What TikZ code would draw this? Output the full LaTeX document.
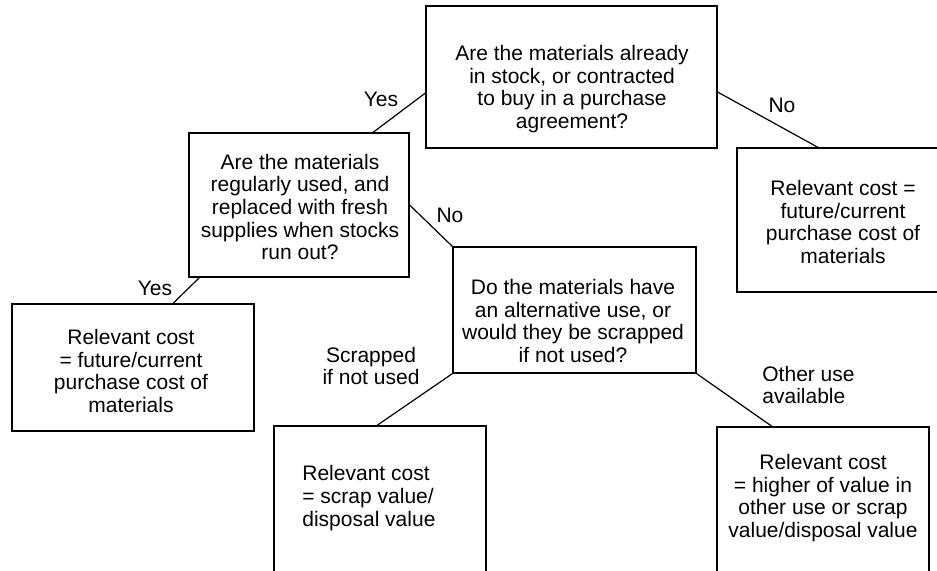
\documentclass[tikz,border=0pt]{standalone}
\usepackage{fontspec}
\setmainfont{Liberation Sans}
\usetikzlibrary{
  positioning,
  calc
}
\newcommand{\treefont}{\fontsize{10.5}{11.3}\selectfont}
\tikzset{
  qbox/.style={draw, line width=0.6pt, inner sep=0pt},
  qtext/.style={font=\treefont, align=center, inner sep=0pt},
  branch/.style={line width=0.6pt},
  blabel/.style={font=\treefont, inner sep=0pt}
}

\begin{document}
\begin{tikzpicture}[x=0.5pt, y=-0.5pt]
  \useasboundingbox (0,0) rectangle (937,570);
  \clip (0,0) rectangle (937,570);

  % questions
  \node[qbox, minimum width=145.5pt, minimum height=71pt] (q1) at (571.5,77) {};
  \node[qtext] (q1t) at (572,89) {Are the materials already\\in stock, or contracted\\to buy in a purchase\\agreement?};

  \node[qbox, minimum width=110pt, minimum height=72pt] (q2) at (299,205) {};
  \node[qtext] (q2t) at (300,207) {Are the materials\\regularly used, and\\replaced with fresh\\supplies when stocks\\run out?};

  \node[qbox, minimum width=121.5pt, minimum height=63pt] (q3) at (574.5,310) {};
  \node[qtext] (q3t) at (573,321) {Do the materials have\\an alternative use, or\\would they be scrapped\\if not used?};

  % outcomes
  \node[qbox, minimum width=106pt, minimum height=72pt] (r1) at (843,220) {};
  \node[qtext] (r1t) at (843,222) {Relevant cost =\\future/current\\purchase cost of\\materials};

  \node[qbox, minimum width=121pt, minimum height=63.5pt] (r2) at (133,367.5) {};
  \node[qtext] (r2t) at (131,371) {Relevant cost\\= future/current\\purchase cost of\\materials};

  \node[qbox, minimum width=106pt, minimum height=74pt] (r3) at (380,500) {};
  \node[qtext, align=left, anchor=west] (r3t) at (302,498) {Relevant cost\\= scrap value/\\disposal value};

  \node[qbox, minimum width=106pt, minimum height=73.5pt] (r4) at (823,500.5) {};
  \node[qtext] (r4t) at (823,498) {Relevant cost\\= higher of value in\\other use or scrap\\value/disposal value};

  % branches
  \draw[branch] ([yshift=-8pt]q1.west) -- ([xshift=37pt]q2.north);
  \draw[branch] ([yshift=-7.5pt]q1.east) -- ([xshift=-12.5pt]r1.north);
  \draw[branch] (q2.east) -- (q3.north west);
  \draw[branch] ([xshift=5.5pt]q2.south west) -- ([xshift=20pt]r2.north);
  \draw[branch] (q3.south west) -- ([xshift=-1.5pt]r3.north);
  \draw[branch] (q3.south east) -- ([xshift=-25.5pt]r4.north);

  \node[blabel] (yes1) at (381,99.5) {Yes};
  \node[blabel] (no1) at (782,105.5) {No};
  \node[blabel] (no2) at (450,215) {No};
  \node[blabel] (yes2) at (155,288.5) {Yes};
  \node[blabel, align=center] (scrap) at (371,366) {Scrapped\\if not used};
  \node[blabel, align=left, anchor=west] (other) at (762,385) {Other use\\available};
\end{tikzpicture}
\end{document}
